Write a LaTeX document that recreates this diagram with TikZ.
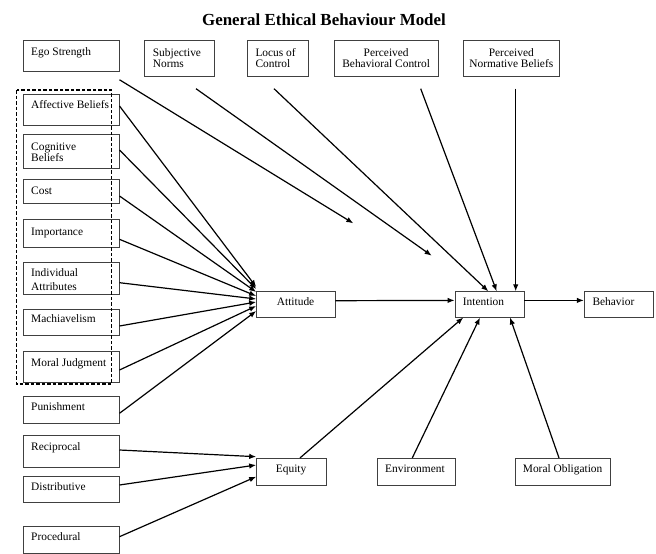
\documentclass[tikz,border=0pt]{standalone}
\usepackage{fontspec}
\setmainfont{Liberation Serif}
\usetikzlibrary{arrows.meta}
\tikzset{
  box/.style={draw=black!75, line width=0.9pt, inner sep=0pt, rectangle},
  lbl/.style={anchor=base west, inner sep=0pt, font=\fontsize{11.4}{11.6}\selectfont},
  clbl/.style={anchor=base, inner sep=0pt, font=\fontsize{11.4}{11.5}\selectfont},
  conn/.style={line width=1.2pt, -{Latex[length=7pt,width=5.5pt]}},
  grp/.style={line width=1.4pt, dash pattern=on 3.5pt off 2pt},
}
\begin{document}
\begin{tikzpicture}[x=1pt, y=-1pt]
\useasboundingbox (0,0) rectangle (656,554);

% title
\node[anchor=base, inner sep=0pt, font=\fontsize{16.9}{18}\selectfont\bfseries] (title) at (324,25) {General Ethical Behaviour Model};

% left column boxes
\node[box, minimum width=95.7pt, minimum height=30.6pt] (ego)  at (71.2,56) {};
\node[box, minimum width=95.7pt, minimum height=31pt]   (aff)  at (71.2,110.2) {};
\node[box, minimum width=95.7pt, minimum height=34pt]   (cog)  at (71.2,151.3) {};
\node[box, minimum width=95.7pt, minimum height=24pt]   (cost) at (71.2,191.3) {};
\node[box, minimum width=95.7pt, minimum height=28.4pt] (imp)  at (71.2,233.5) {};
\node[box, minimum width=95.7pt, minimum height=32pt]   (ind)  at (71.2,278) {};
\node[box, minimum width=95.7pt, minimum height=26.7pt] (mac)  at (71.2,322.3) {};
\node[box, minimum width=95.7pt, minimum height=31pt]   (mj)   at (71.2,367.2) {};
\node[box, minimum width=95.7pt, minimum height=27.3pt] (pun)  at (71.2,409.7) {};
\node[box, minimum width=95.7pt, minimum height=32.3pt] (rec)  at (71.2,451.2) {};
\node[box, minimum width=95.7pt, minimum height=26.7pt] (dist) at (71.2,489.3) {};
\node[box, minimum width=95.7pt, minimum height=26.3pt] (proc) at (71.2,539.8) {};

% top row boxes
\node[box, minimum width=69.7pt,  minimum height=35.3pt] (subj)  at (179.2,58.3) {};
\node[box, minimum width=61pt,    minimum height=35.3pt] (locus) at (278.2,58.3) {};
\node[box, minimum width=104.3pt, minimum height=35.3pt] (pbc)   at (386.2,58.3) {};
\node[box, minimum width=96pt,    minimum height=35.3pt] (pnb)   at (511.3,58.3) {};

% middle / bottom boxes
\node[box, minimum width=78.3pt, minimum height=26pt]   (att) at (295.8,304.7) {};
\node[box, minimum width=69pt,   minimum height=25.3pt] (int) at (489.5,304.4) {};
\node[box, minimum width=69pt,   minimum height=25.3pt] (beh) at (618.8,304.4) {};
\node[box, minimum width=69.3pt, minimum height=26.7pt] (eq)  at (291.3,471.7) {};
\node[box, minimum width=78.4pt, minimum height=26.7pt] (env) at (416.5,471.7) {};
\node[box, minimum width=95.4pt, minimum height=26.7pt] (mo)  at (563,471.7) {};

% dashed group
\draw[grp] (16.5,90) rectangle (111.7,384);

% labels
\node[lbl] (ego-t)  at (31,55)    {Ego Strength};
\node[lbl] (aff-t)  at (31,108.3) {Affective Beliefs};
\node[lbl] (cog-t)  at (31,150)   {\begin{tabular}[t]{@{}l@{}}Cognitive\\Beliefs\end{tabular}};
\node[lbl] (cost-t) at (31,194)   {Cost};
\node[lbl] (imp-t)  at (31,235)   {Importance};
\node[lbl, font=\fontsize{11.4}{13.3}\selectfont] (ind-t) at (31,276.7) {\begin{tabular}[t]{@{}l@{}}Individual\\Attributes\end{tabular}};
\node[lbl] (mac-t)  at (31,322.7) {Machiavelism};
\node[lbl] (mj-t)   at (31,366.7) {Moral Judgment};
\node[lbl] (pun-t)  at (31,410)   {Punishment};
\node[lbl] (rec-t)  at (31,450)   {Reciprocal};
\node[lbl] (dist-t) at (31,490)   {Distributive};
\node[lbl] (proc-t) at (31,540)   {Procedural};

\node[lbl, font=\fontsize{11.4}{11}\selectfont] (subj-t) at (152.7,56.5) {\begin{tabular}[t]{@{}l@{}}Subjective\\Norms\end{tabular}};
\node[lbl, font=\fontsize{11.4}{11.5}\selectfont] (locus-t) at (255.3,56) {\begin{tabular}[t]{@{}l@{}}Locus of\\Control\end{tabular}};
\node[clbl] (pbc-t) at (386.2,56) {\begin{tabular}[t]{@{}c@{}}Perceived\\Behavioral Control\end{tabular}};
\node[clbl] (pnb-t) at (511.3,56) {\begin{tabular}[t]{@{}c@{}}Perceived\\Normative Beliefs\end{tabular}};

\node[lbl] (att-t) at (276.7,305) {Attitude};
\node[lbl] (int-t) at (462.7,305) {Intention};
\node[lbl] (beh-t) at (592.3,305) {Behavior};
\node[lbl] (eq-t)  at (275.7,472) {Equity};
\node[lbl] (env-t) at (385,472)   {Environment};
\node[lbl] (mo-t)  at (522.7,472) {Moral Obligation};

% free arrow ends
\coordinate (egoend)  at (353.3,223.3);
\coordinate (subjend) at (431.7,255.7);

% connectors
\draw[conn] ([yshift=-8pt]ego.south east) -- (egoend);
\draw[conn] ([xshift=16.8pt,yshift=-12.3pt]subj.south) -- (subjend);

\draw[conn] ([yshift=4.2pt]aff.east)  -- ([yshift=17.7pt]att.west);
\draw[conn] ([yshift=1.3pt]cog.east)  -- ([yshift=15.7pt]att.west);
\draw[conn] ([yshift=-4.7pt]cost.east) -- ([yshift=12.7pt]att.west);
\draw[conn] ([yshift=-5.8pt]imp.east) -- ([yshift=8.7pt]att.west);
\draw[conn] ([yshift=-4.7pt]ind.east) -- ([yshift=5.7pt]att.west);
\draw[conn] ([yshift=-3.7pt]mac.east) -- ([yshift=2.7pt]att.west);
\draw[conn] ([yshift=-2.8pt]mj.east)  -- ([yshift=-1.3pt]att.west);
\draw[conn] ([yshift=-3.6pt]pun.east) -- ([yshift=-6.3pt]att.west);

\draw[conn] ([yshift=1.2pt]rec.east)  -- ([yshift=15pt]eq.west);
\draw[conn] ([yshift=4.3pt]dist.east) -- ([yshift=6.7pt]eq.west);
\draw[conn] ([yshift=3.1pt]proc.east) -- ([yshift=-5pt]eq.west);

\draw[conn] ([xshift=-4.2pt,yshift=-12.3pt]locus.south) -- ([xshift=-1.2pt]int.north);
\draw[conn] ([xshift=34.5pt,yshift=-12.3pt]pbc.south) -- ([xshift=7.2pt]int.north);
\draw[conn] ([xshift=4.4pt,yshift=-12.3pt]pnb.south) -- ([xshift=26.2pt]int.north);

\draw[conn] ([yshift=4pt]att.east) -- ([yshift=4pt]int.west);
\draw[conn] ([yshift=4pt]int.east) -- ([yshift=4pt]beh.west);

\draw[conn] ([xshift=8.7pt]eq.north)   -- ([xshift=-26.2pt]int.south);
\draw[conn] ([xshift=-4.2pt]env.north) -- ([xshift=-9.5pt]int.south);
\draw[conn] ([xshift=-4pt]mo.north)    -- ([xshift=20.5pt]int.south);
\end{tikzpicture}
\end{document}
